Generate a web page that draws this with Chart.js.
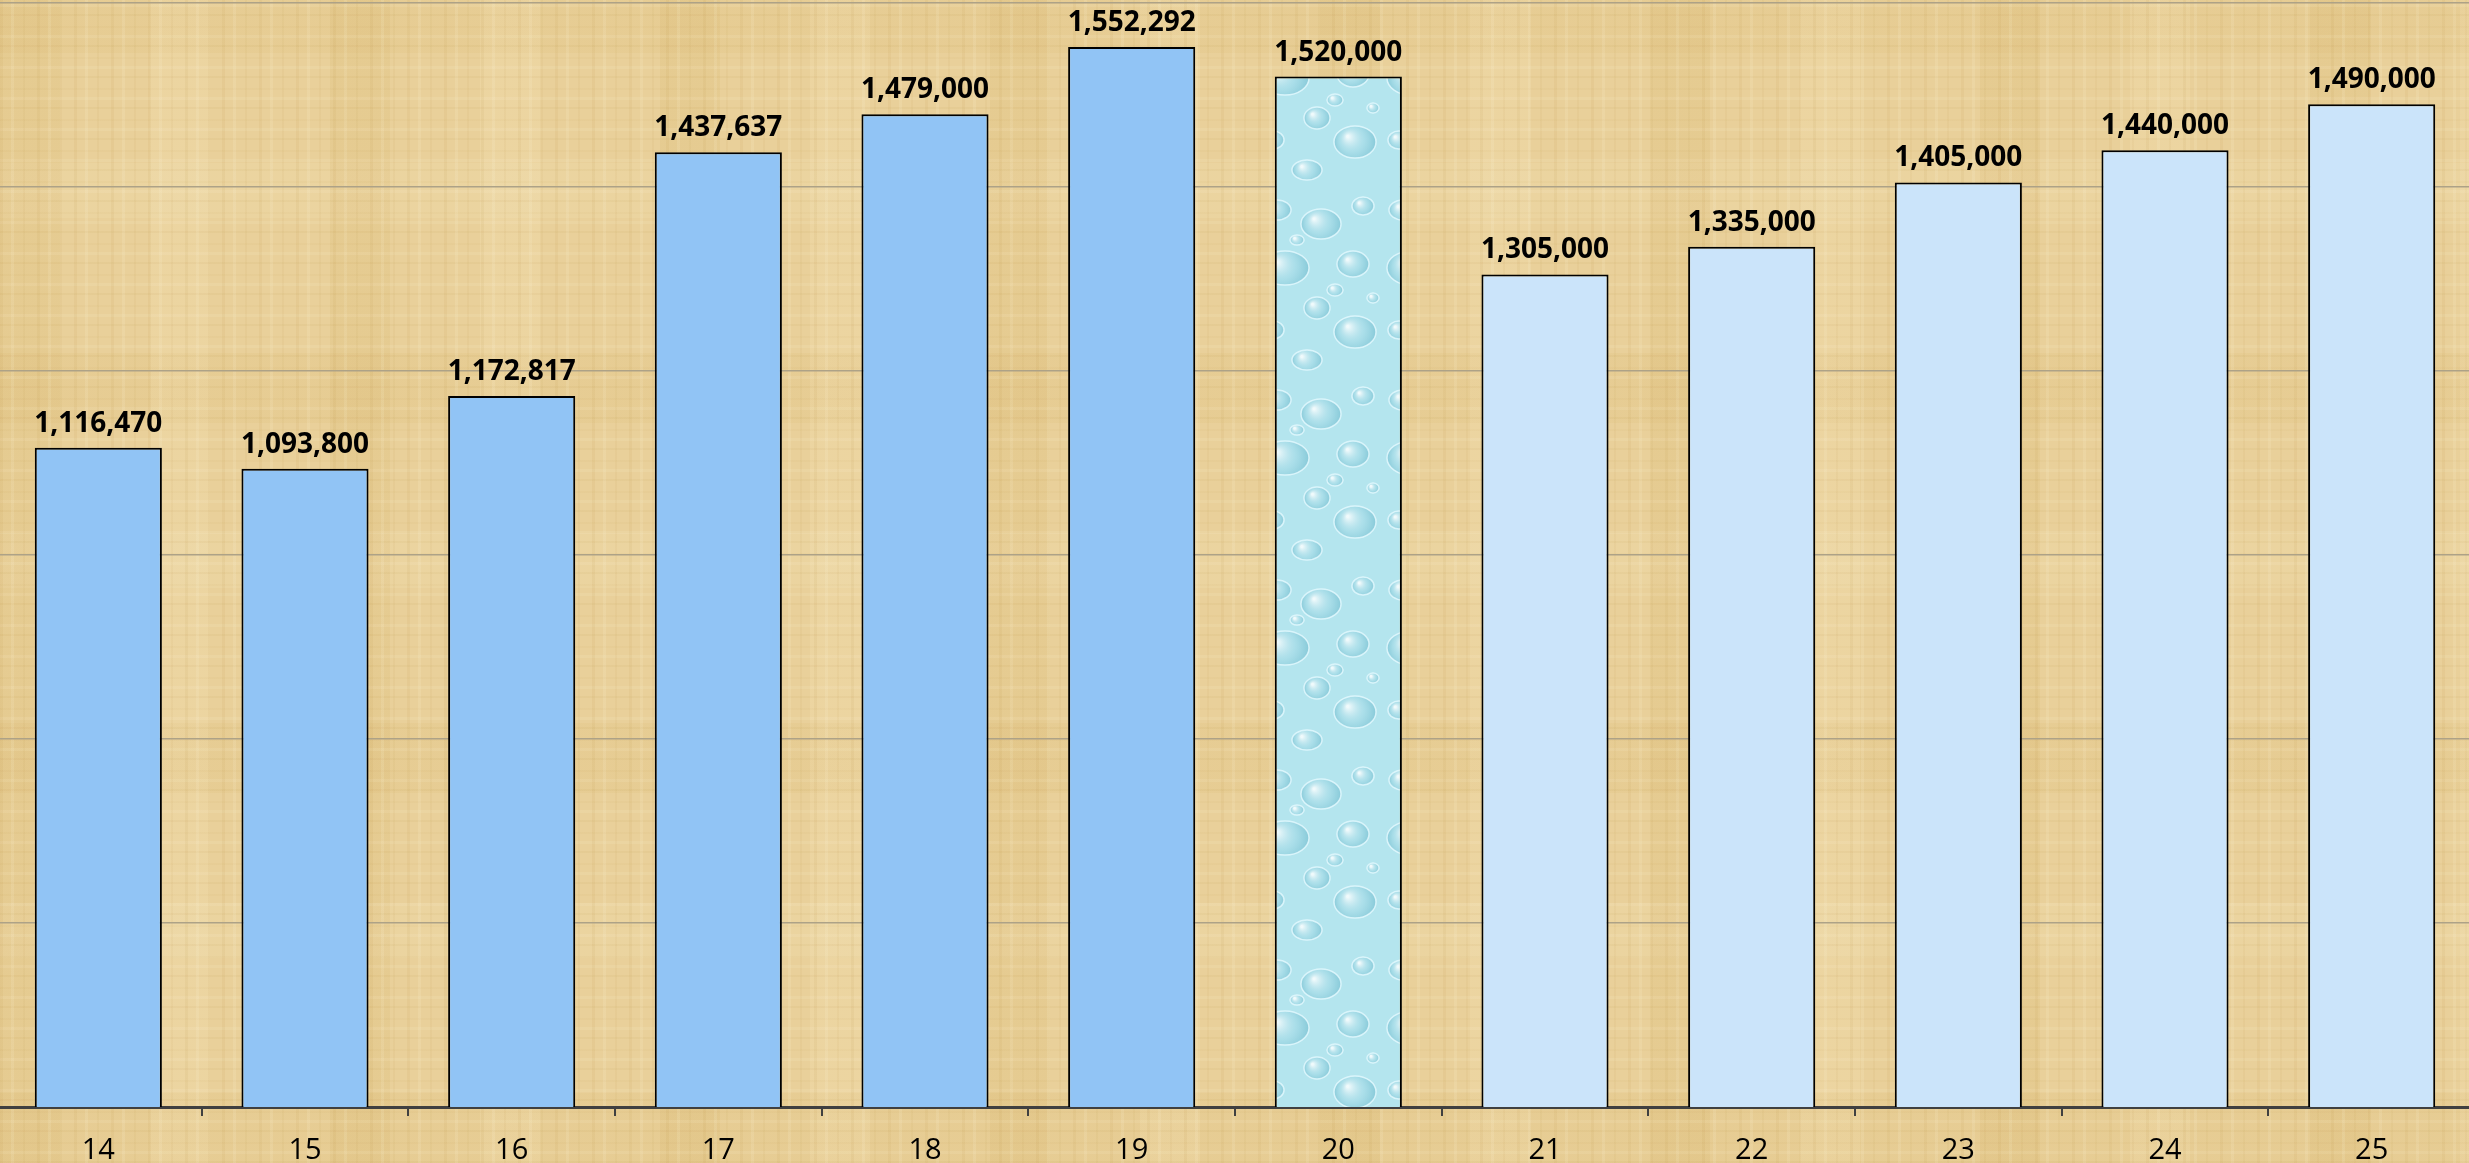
<!DOCTYPE html>
<html>
<head>
<meta charset="utf-8">
<script src="https://cdn.jsdelivr.net/npm/chart.js@4"></script>
<style>
    html, body {
        margin: 0;
        padding: 0;
        overflow: hidden;
    }
    body {
        width: 2469px;
        height: 1163px;
        background-color: #E9D09A;
        background-image:
            repeating-linear-gradient(90deg, rgba(170,125,40,0.07) 0 3px, transparent 3px 11px, rgba(255,250,225,0.12) 11px 14px, transparent 14px 23px, rgba(170,125,40,0.05) 23px 25px, transparent 25px 37px),
            repeating-linear-gradient(0deg, rgba(170,125,40,0.06) 0 2px, transparent 2px 9px, rgba(255,250,225,0.10) 9px 12px, transparent 12px 19px, rgba(170,125,40,0.04) 19px 21px, transparent 21px 31px),
            repeating-linear-gradient(90deg, rgba(200,160,70,0.10) 0 60px, transparent 60px 150px, rgba(255,245,210,0.12) 150px 210px, transparent 210px 330px),
            repeating-linear-gradient(0deg, rgba(200,160,70,0.08) 0 70px, transparent 70px 205px, rgba(255,245,210,0.10) 205px 260px, transparent 260px 370px);
    }
    #wrap {
        position: absolute;
        left: -5px;
        top: 0;
        width: 2480px;
        height: 1163px;
    }
</style>
</head>
<body>
<div id="wrap"><canvas id="chart" width="2480" height="1163"></canvas></div>
<script>
const years = ['14', '15', '16', '17', '18', '19', '20', '21', '22', '23', '24', '25'];
const values = [1116470, 1093800, 1172817, 1437637, 1479000, 1552292, 1520000, 1305000, 1335000, 1405000, 1440000, 1490000];
const yMin = 400000;
const yMax = 1600000;
const yStep = 200000;

// water drop texture for the '20' bar
function dropPattern(ctx) {
    const c = document.createElement('canvas');
    c.width = 126;
    c.height = 190;
    const p = c.getContext('2d');
    p.fillStyle = '#B4E5EE';
    p.fillRect(0, 0, 126, 190);
    const drops = [
        [22, 20, 14, 10], [66, 34, 20, 15], [108, 16, 11, 9], [30, 78, 24, 17],
        [98, 74, 16, 13], [62, 118, 13, 11], [18, 140, 11, 9], [100, 142, 21, 16],
        [52, 170, 15, 10], [80, 100, 8, 6], [118, 108, 6, 5], [42, 50, 7, 5]
    ];
    drops.forEach(d => {
        const rg = p.createRadialGradient(d[0] - d[2] * 0.35, d[1] - d[3] * 0.35, 1, d[0], d[1], d[2]);
        rg.addColorStop(0, 'rgba(255,255,255,0.8)');
        rg.addColorStop(0.55, 'rgba(160,215,228,0.45)');
        rg.addColorStop(1, 'rgba(100,180,200,0.55)');
        p.fillStyle = rg;
        p.beginPath();
        p.ellipse(d[0], d[1], d[2], d[3], 0, 0, Math.PI * 2);
        p.fill();
        p.strokeStyle = 'rgba(230,250,255,0.8)';
        p.lineWidth = 1.5;
        p.stroke();
    });
    return ctx.createPattern(c, 'repeat');
}

const ctx = document.getElementById('chart').getContext('2d');

const barColors = years.map((y, i) => {
    if (i < 6) return '#91C4F5';
    if (i === 6) return dropPattern(ctx);
    return '#CBE4FA';
});

const valueLabels = {
    id: 'valueLabels',
    afterDatasetsDraw(chart) {
        const c = chart.ctx;
        const meta = chart.getDatasetMeta(0);
        c.save();
        c.font = 'bold 28px "Open Sans"';
        c.fillStyle = '#000';
        c.textAlign = 'center';
        c.textBaseline = 'alphabetic';
        meta.data.forEach((bar, i) => {
            c.fillText(values[i].toLocaleString('en-US'), bar.x, bar.y - 16);
        });
        c.restore();
    }
};

new Chart(ctx, {
    type: 'bar',
    data: {
        labels: years,
        datasets: [{
            data: values,
            backgroundColor: barColors,
            borderColor: '#000',
            borderWidth: 2,
            borderSkipped: 'bottom',
            barPercentage: 0.615,
            categoryPercentage: 1.0
        }]
    },
    options: {
        responsive: false,
        devicePixelRatio: 1,
        animation: false,
        layout: {
            padding: { top: 3, left: 0, right: 0, bottom: 0 }
        },
        plugins: {
            legend: { display: false },
            tooltip: { enabled: false }
        },
        scales: {
            x: {
                offset: true,
                grid: {
                    offset: true,
                    drawOnChartArea: false,
                    color: '#404040',
                    lineWidth: 2,
                    tickLength: 9
                },
                border: { color: '#404040', width: 3 },
                ticks: {
                    color: '#000',
                    font: { family: '"Open Sans"', size: 29 },
                    padding: 17,
                    maxRotation: 0
                },
                afterFit(scale) {
                    scale.height = 56;
                }
            },
            y: {
                min: yMin,
                max: yMax,
                ticks: { display: false, stepSize: yStep },
                grid: { color: '#ADA287', lineWidth: 1.5, drawTicks: false },
                border: { display: false },
                afterFit(scale) {
                    scale.width = 0;
                }
            }
        }
    },
    plugins: [valueLabels]
});
</script>
</body>
</html>
